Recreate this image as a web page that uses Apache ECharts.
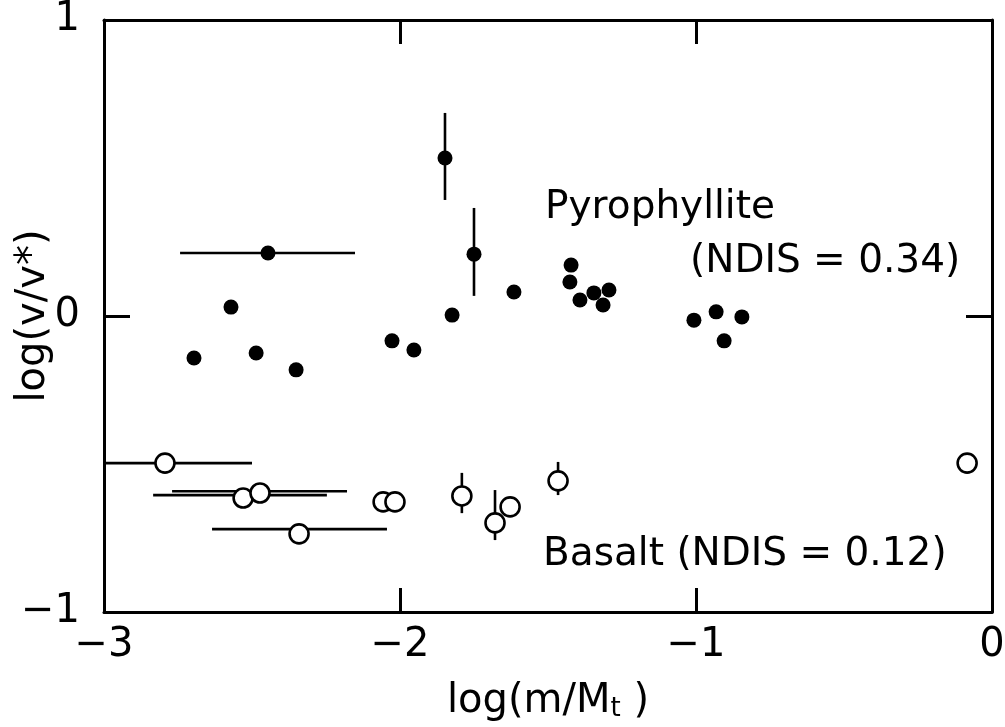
<!DOCTYPE html>
<html>
<head>
<meta charset="utf-8">
<script src="https://cdn.jsdelivr.net/npm/echarts@6/dist/echarts.min.js"></script>
<style>html,body{margin:0;padding:0;background:#fff}#c{width:1005px;height:727px}</style>
</head>
<body>
<div id="c"></div>
<script>
// Pyrophyllite (filled circles)
const pyroX = [-2.696, -2.571, -2.486, -2.446, -2.351, -2.027, -1.953, -1.848, -1.750, -1.824, -1.615, -1.422, -1.426, -1.392, -1.345, -1.314, -1.294, -1.007, -0.932, -0.845, -0.905];
const pyroY = [-0.142, 0.030, -0.125, 0.213, -0.182, -0.084, -0.115, 0.534, 0.209, 0.003, 0.081, 0.172, 0.115, 0.054, 0.078, 0.037, 0.088, -0.014, 0.014, -0.003, -0.084];
// horizontal error bars: [y, xLow, xHigh]
const pyroHErr = [[0.213, -2.743, -2.152]];
// vertical error bars: [x, yLow, yHigh]
const pyroVErr = [[-1.848, 0.392, 0.686], [-1.750, 0.068, 0.365]];

// Basalt (open circles)
const basX = [-2.794, -2.530, -2.473, -2.341, -2.057, -2.017, -1.791, -1.679, -1.628, -1.466, -0.084];
const basY = [-0.497, -0.615, -0.598, -0.736, -0.628, -0.628, -0.608, -0.699, -0.645, -0.557, -0.497];
const basHErr = [[-0.497, -3.0, -2.5], [-0.605, -2.834, -2.247], [-0.592, -2.770, -2.179], [-0.720, -2.635, -2.044]];
const basVErr = [[-1.791, -0.666, -0.530], [-1.679, -0.757, -0.588], [-1.466, -0.605, -0.493]];

const xTicks = [-3, -2, -1, 0];
const yTicks = [-1, 0, 1];

const FONT = 'DejaVu Sans';
const fmt = v => (v < 0 ? '\u2212' + Math.abs(v) : String(v));

function errRender(horizontal) {
  return function (params, api) {
    let p1, p2;
    if (horizontal) {
      p1 = api.coord([api.value(1), api.value(0)]);
      p2 = api.coord([api.value(2), api.value(0)]);
    } else {
      p1 = api.coord([api.value(0), api.value(1)]);
      p2 = api.coord([api.value(0), api.value(2)]);
    }
    return {
      type: 'line',
      shape: { x1: p1[0], y1: p1[1], x2: p2[0], y2: p2[1] },
      style: { stroke: '#000', lineWidth: 2.6 }
    };
  };
}

const chart = echarts.init(document.getElementById('c'), null, { renderer: 'canvas' });
const axisLineStyle = { color: '#000', width: 3 };
chart.setOption({
  backgroundColor: '#fff',
  animation: false,
  grid: { left: 104, right: 13, top: 20, bottom: 115, containLabel: false, outerBoundsMode: 'none' },
  xAxis: [
    {
      type: 'value', min: -3, max: 0, interval: 1, position: 'bottom',
      axisLine: { show: true, onZero: false, lineStyle: axisLineStyle },
      axisTick: { show: true, inside: true, length: 24, lineStyle: { color: '#000', width: 3 } },
      splitLine: { show: false },
      axisLabel: { color: '#000', fontFamily: FONT, fontSize: 40, margin: 14, formatter: fmt, showMinLabel: true, showMaxLabel: true },
      name: '{a|log(m/M}{s|t}{a| )}', nameLocation: 'middle', nameGap: 70,
      nameTextStyle: { rich: { a: { fontFamily: FONT, fontSize: 40, color: '#000' }, s: { fontFamily: FONT, fontSize: 26, color: '#000', verticalAlign: 'bottom', padding: [14, 0, 0, 0] } } }
    },
    {
      type: 'value', min: -3, max: 0, interval: 1, position: 'top',
      axisLine: { show: true, onZero: false, lineStyle: axisLineStyle },
      axisTick: { show: true, inside: true, length: 24, lineStyle: { color: '#000', width: 3 } },
      splitLine: { show: false }, axisLabel: { show: false }
    }
  ],
  yAxis: [
    {
      type: 'value', min: -1, max: 1, interval: 1, position: 'left',
      axisLine: { show: true, onZero: false, lineStyle: axisLineStyle },
      axisTick: { show: true, inside: true, length: 26, lineStyle: { color: '#000', width: 3 } },
      splitLine: { show: false },
      axisLabel: { color: '#000', fontFamily: FONT, fontSize: 40, margin: 24, formatter: fmt, showMinLabel: true, showMaxLabel: true }
    },
    {
      type: 'value', min: -1, max: 1, interval: 1, position: 'right',
      axisLine: { show: true, onZero: false, lineStyle: axisLineStyle },
      axisTick: { show: true, inside: true, length: 26, lineStyle: { color: '#000', width: 3 } },
      splitLine: { show: false }, axisLabel: { show: false }
    }
  ],
  series: [
    { type: 'custom', renderItem: errRender(true), data: pyroHErr, z: 1, encode: { x: [1, 2], y: 0 } },
    { type: 'custom', renderItem: errRender(false), data: pyroVErr, z: 1, encode: { x: 0, y: [1, 2] } },
    { type: 'custom', renderItem: errRender(true), data: basHErr, z: 1, encode: { x: [1, 2], y: 0 } },
    { type: 'custom', renderItem: errRender(false), data: basVErr, z: 1, encode: { x: 0, y: [1, 2] } },
    {
      name: 'Pyrophyllite', type: 'scatter', z: 3, symbol: 'circle', symbolSize: 15,
      itemStyle: { color: '#000', opacity: 1 },
      emphasis: { disabled: true },
      data: pyroX.map((x, i) => [x, pyroY[i]])
    },
    {
      name: 'Basalt', type: 'scatter', z: 3, symbol: 'circle', symbolSize: 19,
      itemStyle: { color: '#fff', borderColor: '#000', borderWidth: 2.6, opacity: 1 },
      emphasis: { disabled: true },
      data: basX.map((x, i) => [x, basY[i]])
    }
  ],
  graphic: [
    { type: 'text', x: 34, y: 316, rotation: Math.PI / 2, style: { text: 'log(v/v*)', font: '40px "DejaVu Sans"', fill: '#000', align: 'center', verticalAlign: 'middle' } },
    { type: 'text', left: 545, top: 188, style: { text: 'Pyrophyllite', font: '39px "DejaVu Sans"', fill: '#000' } },
    { type: 'text', left: 690, top: 242, style: { text: '(NDIS = 0.34)', font: '39px "DejaVu Sans"', fill: '#000' } },
    { type: 'text', left: 543, top: 535, style: { text: 'Basalt (NDIS = 0.12)', font: '39px "DejaVu Sans"', fill: '#000' } }
  ]
});
</script>
</body>
</html>
